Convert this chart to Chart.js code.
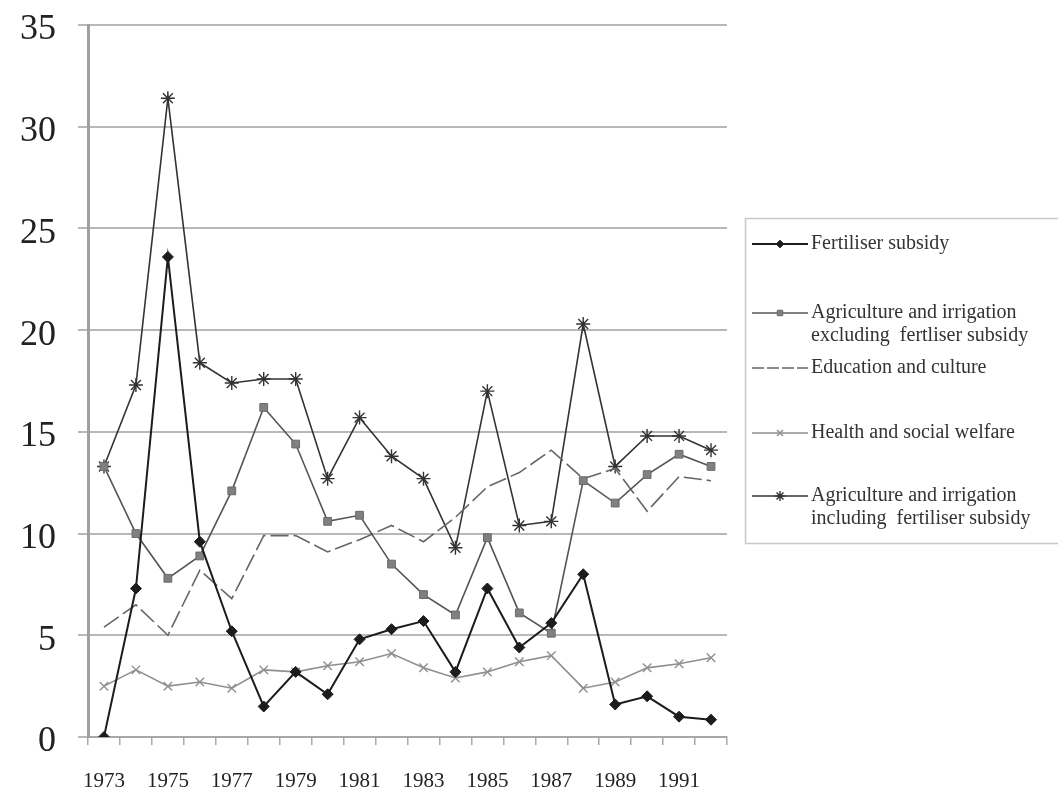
<!DOCTYPE html>
<html>
<head>
<meta charset="utf-8">
<script src="https://cdn.jsdelivr.net/npm/chart.js@4/dist/chart.umd.min.js"></script>
<style>
    html, body { margin: 0; padding: 0; background: #ffffff; }
    #wrap { position: relative; width: 1058px; height: 793px; }
</style>
</head>
<body>
<div id="wrap"><canvas id="line-chart" width="1058" height="793"></canvas></div>
<script>
// Years on the category axis
const years = ['1973', '1974', '1975', '1976', '1977', '1978', '1979', '1980', '1981', '1982',
               '1983', '1984', '1985', '1986', '1987', '1988', '1989', '1990', '1991', '1992'];

// Series values
const fertiliser = [0, 7.3, 23.6, 9.6, 5.2, 1.5, 3.2, 2.1, 4.8, 5.3,
                    5.7, 3.2, 7.3, 4.4, 5.6, 8.0, 1.6, 2.0, 1.0, 0.85];
const agriExcl = [13.3, 10.0, 7.8, 8.9, 12.1, 16.2, 14.4, 10.6, 10.9, 8.5,
                  7.0, 6.0, 9.8, 6.1, 5.1, 12.6, 11.5, 12.9, 13.9, 13.3];
const education = [5.4, 6.5, 5.0, 8.2, 6.8, 9.9, 9.9, 9.1, 9.7, 10.4,
                   9.6, 10.8, 12.3, 13.0, 14.1, 12.7, 13.2, 11.1, 12.8, 12.6];
const health = [2.5, 3.3, 2.5, 2.7, 2.4, 3.3, 3.2, 3.5, 3.7, 4.1,
                3.4, 2.9, 3.2, 3.7, 4.0, 2.4, 2.7, 3.4, 3.6, 3.9];
const agriIncl = [13.3, 17.3, 31.4, 18.4, 17.4, 17.6, 17.6, 12.7, 15.7, 13.8,
                  12.7, 9.3, 17.0, 10.4, 10.6, 20.3, 13.3, 14.8, 14.8, 14.1];

// Legend labels (line breaks as in the picture)
const seriesNames = [
    ['Fertiliser subsidy'],
    ['Agriculture and irrigation', 'excluding  fertliser subsidy'],
    ['Education and culture'],
    ['Health and social welfare'],
    ['Agriculture and irrigation', 'including  fertiliser subsidy']
];

// Y axis ticks
const yTicks = [0, 5, 10, 15, 20, 25, 30, 35];

const serif = '"Liberation Serif", "DejaVu Serif", serif';

const datasets = [
    {
        label: seriesNames[0].join(' '),
        data: fertiliser,
        borderColor: '#1c1c1c',
        backgroundColor: '#1c1c1c',
        borderWidth: 2,
        pointStyle: 'rectRot',
        pointRadius: 5.5,
        pointBorderWidth: 1
    },
    {
        label: seriesNames[1].join(' '),
        data: agriExcl,
        borderColor: '#555555',
        backgroundColor: '#808080',
        pointBorderColor: '#6a6a6a',
        borderWidth: 1.6,
        pointStyle: 'rect',
        pointRadius: 5.5,
        pointBorderWidth: 1
    },
    {
        label: seriesNames[2].join(' '),
        data: education,
        borderColor: '#666666',
        backgroundColor: '#666666',
        borderWidth: 1.6,
        borderDash: [18, 5],
        pointRadius: 0
    },
    {
        label: seriesNames[3].join(' '),
        data: health,
        borderColor: '#8f8f8f',
        backgroundColor: '#8f8f8f',
        borderWidth: 1.6,
        pointStyle: 'crossRot',
        pointRadius: 6,
        pointBorderWidth: 1.4
    },
    {
        label: seriesNames[4].join(' '),
        data: agriIncl,
        borderColor: '#333333',
        backgroundColor: '#333333',
        borderWidth: 1.6,
        pointStyle: 'star',
        pointRadius: 7,
        pointBorderWidth: 1.4
    }
];

// Boxed legend on the right, drawn on the canvas
const boxLegend = {
    id: 'boxLegend',
    afterDraw(chart) {
        const ctx = chart.ctx;
        const rowsY = [[244], [313, 336], [368], [433], [496, 519]];
        ctx.save();
        ctx.strokeStyle = '#c8c8c8';
        ctx.lineWidth = 1.5;
        ctx.strokeRect(745.5, 218.5, 320, 325);
        ctx.font = '20px ' + serif;
        ctx.fillStyle = '#333333';
        ctx.textBaseline = 'middle';
        chart.data.datasets.forEach(function(ds, i) {
            const y = rowsY[i][0];
            ctx.save();
            ctx.strokeStyle = ds.borderColor;
            ctx.lineWidth = ds.borderWidth;
            if (ds.borderDash) ctx.setLineDash([12, 3]);
            ctx.beginPath();
            ctx.moveTo(752, y);
            ctx.lineTo(808, y);
            ctx.stroke();
            ctx.setLineDash([]);
            if (ds.pointRadius > 0) {
                ctx.fillStyle = ds.backgroundColor;
                ctx.strokeStyle = ds.pointBorderColor || ds.borderColor;
                ctx.lineWidth = ds.pointBorderWidth;
                Chart.helpers.drawPoint(ctx, {
                    pointStyle: ds.pointStyle,
                    radius: ds.pointRadius * 0.7,
                    rotation: 0,
                    borderWidth: ds.pointBorderWidth
                }, 780, y);
            }
            ctx.restore();
            seriesNames[i].forEach(function(line, j) {
                ctx.fillText(line, 811, rowsY[i][j]);
            });
        });
        ctx.restore();
    }
};

new Chart(document.getElementById('line-chart'), {
    type: 'line',
    data: { labels: years, datasets: datasets },
    plugins: [boxLegend],
    options: {
        responsive: false,
        animation: false,
        layout: { padding: { top: 0, right: 331, left: 0, bottom: 0 } },
        plugins: {
            legend: { display: false },
            tooltip: { enabled: false }
        },
        elements: { line: { tension: 0 } },
        scales: {
            x: {
                offset: true,
                grid: {
                    offset: true,
                    drawOnChartArea: false,
                    drawTicks: true,
                    tickLength: 8,
                    color: '#a8a8a8',
                    lineWidth: 1.5
                },
                border: { color: '#a8a8a8', width: 2 },
                ticks: {
                    autoSkip: false,
                    maxRotation: 0,
                    padding: 24,
                    color: '#222222',
                    font: { family: serif, size: 21 },
                    callback: function(value, index) {
                        return index % 2 === 0 ? years[index] : '';
                    }
                },
                afterFit: function(scale) { scale.height = 56; }
            },
            y: {
                min: 0,
                max: 35,
                afterBuildTicks: function(scale) {
                    scale.ticks = yTicks.map(function(v) { return { value: v }; });
                },
                grid: {
                    color: '#b8b8b8',
                    lineWidth: 2,
                    tickLength: 10
                },
                border: { color: '#a0a0a0', width: 3 },
                ticks: {
                    padding: 22,
                    labelOffset: 5,
                    color: '#222222',
                    font: { family: serif, size: 36 }
                },
                afterFit: function(scale) {
                    scale.width = 88;
                    scale.paddingTop = 25;
                    scale.paddingBottom = 0;
                }
            }
        }
    }
});
</script>
</body>
</html>
